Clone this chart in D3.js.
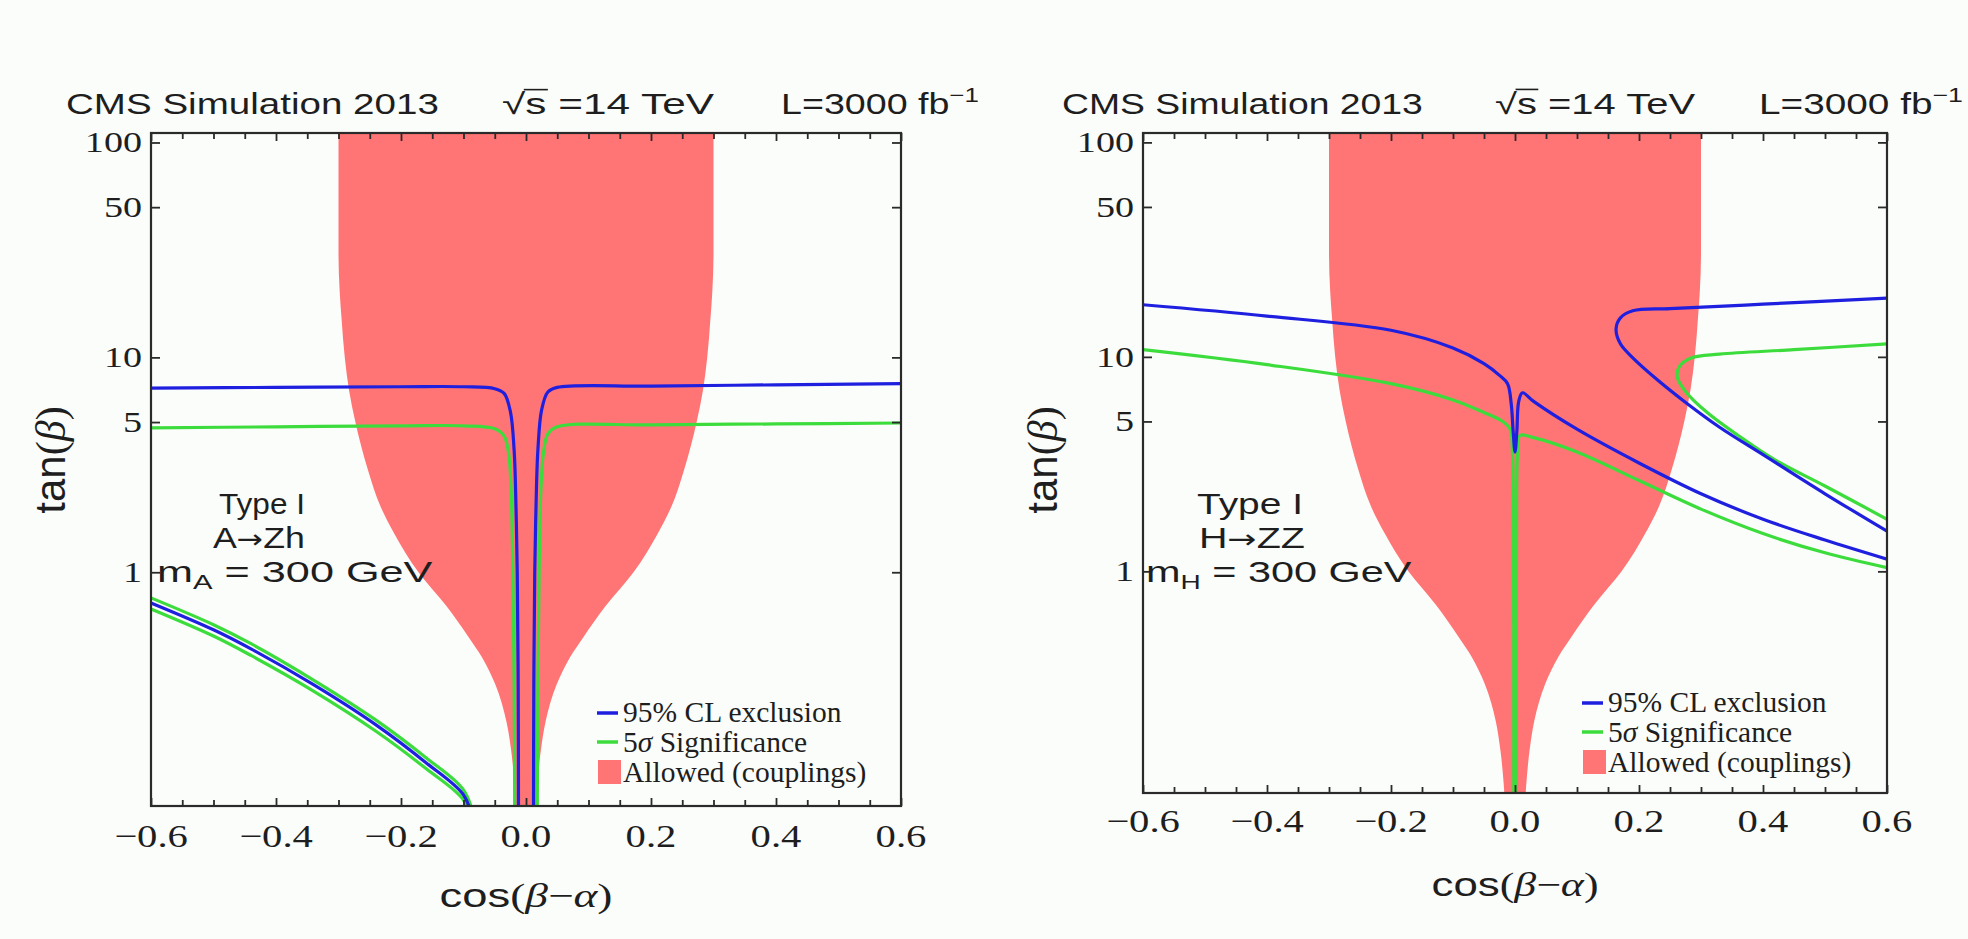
<!DOCTYPE html>
<html><head><meta charset="utf-8">
<script src="https://cdn.jsdelivr.net/npm/d3@7"></script>
<style>html,body{margin:0;padding:0;background:#fbfdfa}svg{display:block}</style>
</head><body>
<svg id="chart" width="1968" height="939"></svg>
<script>
// ---------------- data ----------------
const xTicks = [-0.6, -0.4, -0.2, 0.0, 0.2, 0.4, 0.6];
const xTickLabels = ["\u22120.6", "\u22120.4", "\u22120.2", "0.0", "0.2", "0.4", "0.6"];
const xMinorTicks = d3.range(-12, 13).map(i => i * 0.05);
const yTicks = [1, 5, 10, 50, 100];
const yTickLabels = ["1", "5", "10", "50", "100"];

// allowed region (couplings): tan(beta) and left/right edge in cos(beta-alpha)
const allowedTan = [112, 50, 30, 20, 15, 10, 7, 5, 3, 2, 1.5, 1, 0.7, 0.5, 0.4, 0.3, 0.2, 0.15, 0.1, 0.08];
const allowedLo  = [-0.30, -0.30, -0.30, -0.298, -0.295, -0.29, -0.283, -0.273, -0.253, -0.232, -0.21, -0.172, -0.128, -0.092, -0.07, -0.049, -0.031, -0.024, -0.018, -0.016];
const allowedHi  = [0.30, 0.30, 0.30, 0.298, 0.295, 0.29, 0.283, 0.273, 0.253, 0.232, 0.21, 0.172, 0.128, 0.092, 0.07, 0.049, 0.031, 0.024, 0.018, 0.016];

// Left panel: A -> Zh, 95% CL exclusion (blue) and 5 sigma (green)
const azhBlueLeft  = [[-0.6, 7.2], [-0.4, 7.25], [-0.2, 7.3], [-0.1, 7.3], [-0.05, 7.15], [-0.035, 6.8], [-0.025, 5.6], [-0.019, 3.7], [-0.016, 2.0], [-0.014, 1.0], [-0.0125, 0.3], [-0.012, 0.07]];
const azhBlueRight = [[0.012, 0.07], [0.0125, 0.3], [0.014, 1.0], [0.016, 2.0], [0.019, 3.7], [0.025, 5.7], [0.035, 6.9], [0.05, 7.25], [0.2, 7.35], [0.4, 7.45], [0.6, 7.55]];
const azhGreenLeft  = [[-0.6, 4.7], [-0.4, 4.75], [-0.2, 4.8], [-0.1, 4.8], [-0.05, 4.65], [-0.035, 4.3], [-0.028, 3.6], [-0.024, 2.5], [-0.021, 1.0], [-0.019, 0.3], [-0.018, 0.07]];
const azhGreenRight = [[0.018, 0.07], [0.019, 0.3], [0.021, 1.0], [0.024, 2.5], [0.028, 3.6], [0.035, 4.4], [0.05, 4.75], [0.2, 4.85], [0.4, 4.9], [0.6, 4.95]];
const azhBlueLow   = [[-0.6, 0.72], [-0.5, 0.54], [-0.44, 0.44], [-0.34, 0.3], [-0.24, 0.195], [-0.16, 0.13], [-0.1, 0.092], [-0.085, 0.07]];
const azhGreenLowA = [[-0.6, 0.76], [-0.5, 0.57], [-0.44, 0.465], [-0.34, 0.315], [-0.24, 0.205], [-0.16, 0.137], [-0.1, 0.097], [-0.082, 0.07]];
const azhGreenLowB = [[-0.6, 0.675], [-0.5, 0.505], [-0.44, 0.41], [-0.34, 0.28], [-0.24, 0.182], [-0.16, 0.122], [-0.1, 0.087], [-0.09, 0.07]];

// Right panel: H -> ZZ
const hzzBlueA  = [[-0.6, 17.5], [-0.4, 15.5], [-0.2, 13.3], [-0.1, 11.0], [-0.05, 9.3], [-0.025, 8.2], [-0.012, 7.5], [-0.006, 6.0], [-0.003, 4.5], [0.0, 3.6], [0.003, 4.5], [0.006, 6.2], [0.012, 6.8], [0.03, 6.2], [0.1, 4.6], [0.2, 3.2], [0.3, 2.3], [0.4, 1.75], [0.5, 1.4], [0.6, 1.14]];
const hzzBlueB  = [[0.6, 18.8], [0.4, 17.6], [0.25, 16.8], [0.19, 16.4], [0.17, 15.2], [0.163, 13.5], [0.17, 11.5], [0.19, 9.9], [0.23, 7.8], [0.27, 6.3], [0.33, 4.7], [0.4, 3.5], [0.5, 2.3], [0.6, 1.54]];
const hzzGreenA = [[-0.6, 10.8], [-0.4, 9.2], [-0.2, 7.5], [-0.1, 6.3], [-0.05, 5.5], [-0.02, 5.0], [-0.008, 4.6], [-0.004, 3.5], [-0.0025, 1.5], [-0.002, 0.3], [-0.002, 0.08]];
const hzzGreenB = [[0.002, 0.08], [0.002, 0.3], [0.0025, 1.5], [0.004, 3.5], [0.008, 4.3], [0.03, 4.2], [0.1, 3.6], [0.2, 2.65], [0.3, 1.95], [0.4, 1.5], [0.5, 1.22], [0.6, 1.04]];
const hzzGreenC = [[0.6, 11.5], [0.45, 10.8], [0.33, 10.3], [0.285, 9.9], [0.265, 9.0], [0.262, 8.0], [0.275, 6.9], [0.31, 5.5], [0.36, 4.3], [0.42, 3.3], [0.5, 2.5], [0.6, 1.75]];

const legendLabels = ["95% CL exclusion", "5\u03c3 Significance", "Allowed (couplings)"];

// ---------------- style ----------------
const C_BLUE = "#1f1fe0", C_GREEN = "#3ddc3d", C_RED = "#ff7474", C_TEXT = "#1e1e1e", C_AXIS = "#2a2a2a";
const SANS = "'Liberation Sans', Arial, sans-serif";
const SERIF = "'Liberation Serif', 'Times New Roman', serif";
const ARROWF = "'DejaVu Sans', sans-serif";

const svg = d3.select("#chart");
svg.append("rect").attr("width", 1968).attr("height", 939).attr("fill", "#fbfdfa");

// text helper: text placed in group, optionally stretched horizontally to a target width
function addText(parent, o) {
  const g = parent.append("g");
  const t = g.append("text").attr("font-size", o.size).attr("font-family", o.family || SANS)
    .attr("text-anchor", o.anchor || "start").attr("fill", C_TEXT);
  (o.parts || [{t: o.text}]).forEach(p => {
    const ts = t.append("tspan").text(p.t);
    if (p.italic) ts.attr("font-style", "italic");
    if (p.family) ts.attr("font-family", p.family);
    if (p.size) ts.attr("font-size", p.size);
    if (p.dy) ts.attr("dy", p.dy);
  });
  const bw = t.node().getBBox().width;
  const s = o.w ? o.w / bw : (o.sx || 1);
  g.attr("transform", `translate(${o.x},${o.y}) scale(${s},1)` + (o.rotate ? ` rotate(${o.rotate})` : ""));
  return {g, t};
}

const panels = [
  {x0: 151, x1: 901, y0: 133, y1: 806, yMin: 0.0817, yMax: 110.7,
   allowed: {tan: allowedTan, lo: allowedLo, hi: allowedHi},
   blue: [azhBlueLeft, azhBlueRight, azhBlueLow],
   green: [azhGreenLeft, azhGreenRight, azhGreenLowA, azhGreenLowB],
   ann: [
     {text: "Type I", x: 262, y: 514, w: 86, anchor: "middle"},
     {parts: [{t: "A"}, {t: "\u2192", family: ARROWF, size: 26}, {t: "Zh"}], x: 259, y: 548, w: 92, anchor: "middle"},
     {parts: [{t: "m"}, {t: "A", size: 20, dy: 7}, {t: " = 300 GeV", dy: -7}], x: 157, y: 582, w: 276}
   ],
   title: {cms: [66, 439], rs: [502, 715], lum: [781, 979]},
   tickLabelY: 847, xLabelY: 907, xLabelW: 173, yLabelX: 65, legend: {x: 597, y: 713}
  },
  {x0: 1143, x1: 1887, y0: 133, y1: 793, yMin: 0.0926, yMax: 110.6,
   allowed: {tan: allowedTan, lo: allowedLo, hi: allowedHi},
   blue: [hzzBlueA, hzzBlueB],
   green: [hzzGreenA, hzzGreenB, hzzGreenC],
   ann: [
     {text: "Type I", x: 1250, y: 514, w: 106, anchor: "middle"},
     {parts: [{t: "H"}, {t: "\u2192", family: ARROWF, size: 26}, {t: "ZZ"}], x: 1252, y: 548, w: 106, anchor: "middle"},
     {parts: [{t: "m"}, {t: "H", size: 20, dy: 7}, {t: " = 300 GeV", dy: -7}], x: 1146, y: 582, w: 266}
   ],
   title: {cms: [1062, 1423], rs: [1495, 1696], lum: [1759, 1963]},
   tickLabelY: 832, xLabelY: 896, xLabelW: 167, yLabelX: 1057, legend: {x: 1582, y: 703}
  }
];

panels.forEach((P, pi) => {
  const x = d3.scaleLinear().domain([-0.6, 0.6]).range([P.x0, P.x1]);
  const y = d3.scaleLog().domain([P.yMin, P.yMax]).range([P.y1, P.y0]);
  const g = svg.append("g");
  const clipId = "clip" + pi;
  g.append("clipPath").attr("id", clipId).append("rect")
    .attr("x", P.x0).attr("y", P.y0).attr("width", P.x1 - P.x0).attr("height", P.y1 - P.y0);
  const plot = g.append("g").attr("clip-path", `url(#${clipId})`);

  // allowed region
  const rows = P.allowed.tan.map((t, i) => ({t, lo: P.allowed.lo[i], hi: P.allowed.hi[i]}));
  plot.append("path").datum(rows)
    .attr("d", d3.area().y(d => y(d.t)).x0(d => x(d.lo)).x1(d => x(d.hi)).curve(d3.curveMonotoneY))
    .attr("fill", C_RED);

  const line = d3.line().x(d => x(d[0])).y(d => y(d[1])).curve(d3.curveCatmullRom.alpha(0.5));
  P.green.forEach(arr => plot.append("path").datum(arr).attr("d", line)
    .attr("fill", "none").attr("stroke", C_GREEN).attr("stroke-width", 3.2));
  P.blue.forEach(arr => plot.append("path").datum(arr).attr("d", line)
    .attr("fill", "none").attr("stroke", C_BLUE).attr("stroke-width", 3.2));

  // axes (ticks inward)
  const majorSet = new Set(xTicks.map(v => v.toFixed(2)));
  const minorOnly = xMinorTicks.filter(v => !majorSet.has(v.toFixed(2)));
  const styleAxis = sel => { sel.select(".domain").remove(); sel.selectAll("line").attr("stroke", C_AXIS).attr("stroke-width", 1.8); };
  g.append("g").attr("transform", `translate(0,${P.y1})`)
    .call(d3.axisBottom(x).tickValues(minorOnly).tickSize(-6).tickSizeOuter(0).tickFormat("")).call(styleAxis);
  g.append("g").attr("transform", `translate(0,${P.y1})`)
    .call(d3.axisBottom(x).tickValues(xTicks).tickSize(-8).tickSizeOuter(0).tickFormat("")).call(styleAxis);
  g.append("g").attr("transform", `translate(0,${P.y0})`)
    .call(d3.axisTop(x).tickValues(minorOnly).tickSize(-6).tickSizeOuter(0).tickFormat("")).call(styleAxis);
  g.append("g").attr("transform", `translate(0,${P.y0})`)
    .call(d3.axisTop(x).tickValues(xTicks).tickSize(-8).tickSizeOuter(0).tickFormat("")).call(styleAxis);
  g.append("g").attr("transform", `translate(${P.x0},0)`)
    .call(d3.axisLeft(y).tickValues(yTicks).tickSize(-9).tickSizeOuter(0).tickFormat("")).call(styleAxis);
  g.append("g").attr("transform", `translate(${P.x1},0)`)
    .call(d3.axisRight(y).tickValues(yTicks).tickSize(-9).tickSizeOuter(0).tickFormat("")).call(styleAxis);
  g.append("rect").attr("x", P.x0).attr("y", P.y0).attr("width", P.x1 - P.x0).attr("height", P.y1 - P.y0)
    .attr("fill", "none").attr("stroke", C_AXIS).attr("stroke-width", 2.2);

  // tick labels
  xTicks.forEach((v, i) => addText(g, {text: xTickLabels[i], x: x(v), y: P.tickLabelY, size: 32, family: SERIF, anchor: "middle", sx: 1.27}));
  yTicks.forEach((v, i) => addText(g, {text: yTickLabels[i], x: P.x0 - 9, y: y(v) + 10, size: 30, family: SERIF, anchor: "end", sx: 1.27}));

  // axis titles
  addText(g, {parts: [{t: "cos"}, {t: "(", family: SERIF}, {t: "\u03b2", family: SERIF, italic: true}, {t: "\u2212", family: SERIF}, {t: "\u03b1", family: SERIF, italic: true}, {t: ")", family: SERIF}],
    x: (P.x0 + P.x1) / 2, y: P.xLabelY, size: 34, anchor: "middle", w: P.xLabelW});
  addText(g, {parts: [{t: "tan"}, {t: "(", family: SERIF}, {t: "\u03b2", family: SERIF, italic: true}, {t: ")", family: SERIF}],
    x: P.yLabelX, y: 460, size: 42, anchor: "middle", sx: 1.0, rotate: -90});

  // annotations
  P.ann.forEach(a => addText(g, Object.assign({size: 29.5, family: SANS}, a)));

  // title
  addText(g, {text: "CMS Simulation 2013", x: P.title.cms[0], y: 114, size: 29, w: P.title.cms[1] - P.title.cms[0]});
  const rs = addText(g, {parts: [{t: "\u221a"}, {t: "s"}, {t: " =14 TeV"}], x: P.title.rs[0], y: 114, size: 29, w: P.title.rs[1] - P.title.rs[0]});
  const e0 = rs.t.node().getExtentOfChar(0), e1 = rs.t.node().getExtentOfChar(1);
  rs.g.append("line").attr("x1", e0.x + e0.width - 1).attr("x2", e1.x + e1.width + 1)
    .attr("y1", e0.y + 2).attr("y2", e0.y + 2).attr("stroke", C_TEXT).attr("stroke-width", 1.6);
  addText(g, {parts: [{t: "L=3000 fb"}, {t: "\u22121", size: 20, dy: -12}], x: P.title.lum[0], y: 114, size: 29, w: P.title.lum[1] - P.title.lum[0]});

  // legend
  const L = P.legend;
  const lg = g.append("g");
  lg.append("line").attr("x1", L.x).attr("x2", L.x + 21).attr("y1", L.y).attr("y2", L.y).attr("stroke", C_BLUE).attr("stroke-width", 3.5);
  lg.append("line").attr("x1", L.x).attr("x2", L.x + 21).attr("y1", L.y + 29).attr("y2", L.y + 29).attr("stroke", C_GREEN).attr("stroke-width", 3.5);
  lg.append("rect").attr("x", L.x + 1).attr("y", L.y + 47).attr("width", 23).attr("height", 24).attr("fill", C_RED);
  legendLabels.forEach((s, i) => {
    const parts = i === 1 ? [{t: "5"}, {t: "\u03c3", italic: true}, {t: " Significance"}] : [{t: s}];
    addText(lg, {parts, x: L.x + 26, y: L.y + 9 + i * 30, size: 29.5, family: SERIF, sx: 1.0});
  });
});
</script>
</body></html>
